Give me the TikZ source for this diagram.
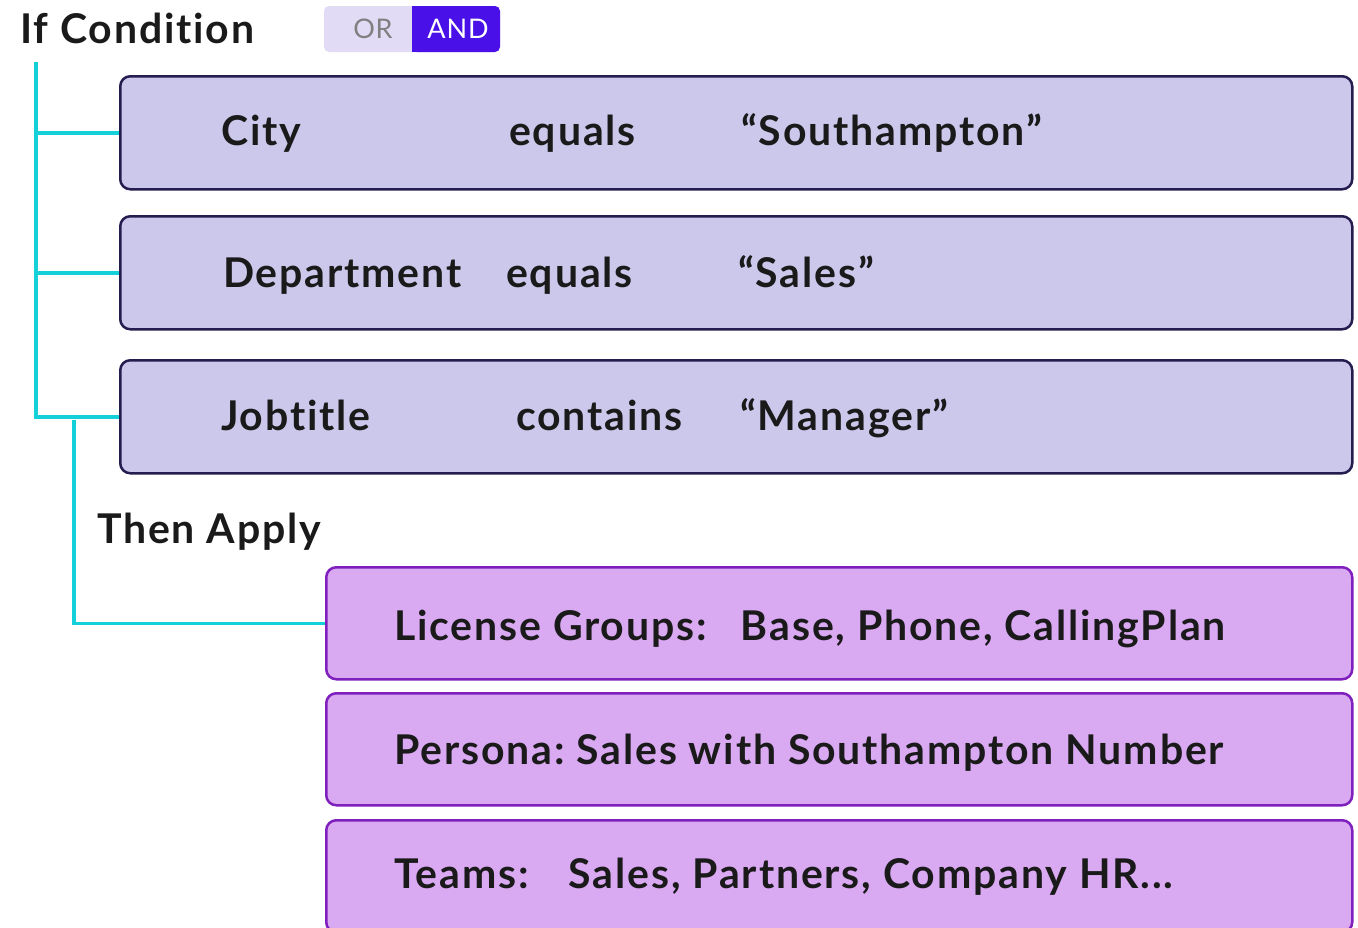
\documentclass[tikz,border=0pt]{standalone}
\usepackage{fontspec}
\setmainfont{Lato}[LetterSpace=4.5,Ligatures=NoCommon]
\newfontfamily\togfont{Lato}[LetterSpace=3]
\definecolor{cyanl}{HTML}{14D0D8}
\definecolor{lavfill}{HTML}{CCC8EB}
\definecolor{lavline}{HTML}{251D4F}
\definecolor{purfill}{HTML}{D9A9F2}
\definecolor{purline}{HTML}{7E1FBE}
\definecolor{txt}{HTML}{1A1A1A}
\definecolor{togl}{HTML}{E1DBF5}
\definecolor{togr}{HTML}{4A10E8}
\frenchspacing
\begin{document}
\begin{tikzpicture}[x=1pt,y=-1pt,
  cond/.style={draw=lavline,fill=lavfill,line width=2.5pt,rounded corners=10pt,anchor=north west,minimum width=1232pt,minimum height=113pt,inner sep=0pt},
  act/.style={draw=purline,fill=purfill,line width=2.5pt,rounded corners=10pt,anchor=north west,minimum width=1026pt,minimum height=112pt,inner sep=0pt},
  lbl/.style={anchor=base west,inner sep=0pt,text=txt,font=\fontsize{41}{48}\selectfont\bfseries},
  tog/.style={anchor=base,inner sep=0pt,font=\togfont\fontsize{27}{30}\selectfont},
  link/.style={draw=cyanl,line width=3.5pt}]
\useasboundingbox (0,0) rectangle (1358,927);
\clip (0,0) rectangle (1358,927);
% header
\node[lbl] (ifc) at (20,43) {If Condition};
\fill[togl,rounded corners=5pt] (324,6) rectangle (500,52);
\fill[togr,rounded corners=5pt] (412,6) rectangle (500,52);
\fill[togr] (412,6) rectangle (440,52);
\node[tog,text=gray] (or) at (373,38) {OR};
\node[tog,text=white] (and) at (458,38) {AND};
% condition boxes
\node[cond] (c1) at (119,75) {};
\node[cond] (c2) at (119,215) {};
\node[cond] (c3) at (119,359) {};
\node[lbl] (c1a) at (221,145) {City};
\node[lbl] (c1b) at (509,145) {equals};
\node[lbl] (c1c) at (741,145) {“Southampton”};
\node[lbl] (c2a) at (223,287) {Department};
\node[lbl] (c2b) at (506,287) {equals};
\node[lbl] (c2c) at (738,287) {“Sales”};
\node[lbl] (c3a) at (221,430) {Jobtitle};
\node[lbl] (c3b) at (516,430) {contains};
\node[lbl] (c3c) at (740,430) {“Manager”};
% then
\node[lbl] (then) at (97,543) {Then Apply};
\node[act] (a1) at (325,566) {};
\node[act] (a2) at (325,692) {};
\node[act] (a3) at (325,819) {};
\node[lbl] (a1t) at (394,640) {License Groups:\hspace{34pt}Base, Phone, CallingPlan};
\node[lbl] (a2t) at (394,764) {Persona: Sales with Southampton Number};
\node[lbl] (a3t) at (394,888) {Teams:\hspace{40pt}Sales, Partners, Company HR...};
% connectors
\coordinate (top) at (36,62);
\coordinate (t2) at (74,420);
\draw[link] (top) |- (c3.west);
\draw[link] (top |- c1.west) -- (c1.west);
\draw[link] (top |- c2.west) -- (c2.west);
\draw[link] (t2) |- (a1.west);
\end{tikzpicture}
\end{document}
